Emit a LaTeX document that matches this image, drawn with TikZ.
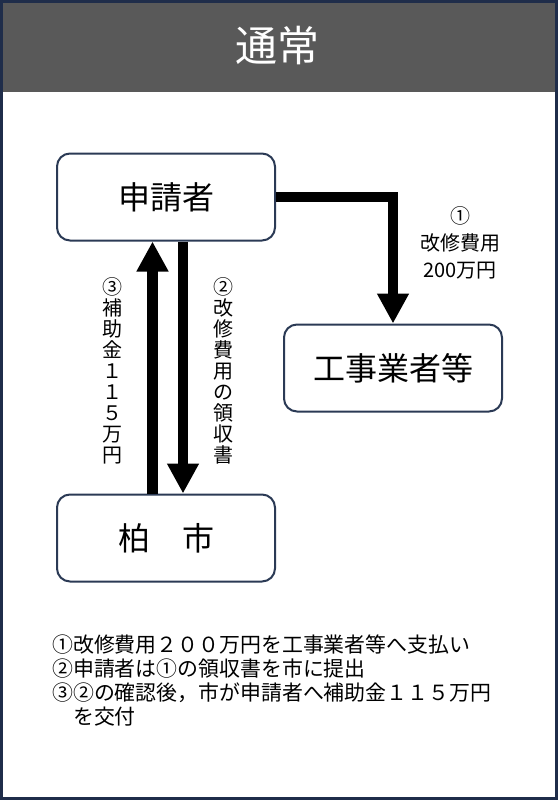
\documentclass[tikz,border=0pt]{standalone}
\usepackage{fontspec}
\setmainfont{Noto Sans CJK JP}
\usetikzlibrary{
        arrows.meta,
        positioning
    }
\definecolor{framenavy}{HTML}{1F2D4A}
\definecolor{boxnavy}{HTML}{2B3A55}
\definecolor{titlegray}{HTML}{595959}
\tikzset{>={Triangle[length=30pt,width=30pt]},line join=miter}
\tikzset{party/.style={draw=boxnavy,line width=2pt,rounded corners=13pt,minimum width=218pt,minimum height=87pt,font=\fontsize{32}{38}\selectfont}}
\tikzset{flow/.style={line width=10.5pt}}
\tikzset{vlabel/.style={align=center,inner sep=0pt,font=\fontsize{20}{21}\selectfont}}

\begin{document}
\begin{tikzpicture}[x=1pt,y=-1pt]
                \useasboundingbox (0,0) rectangle (558,800);
                \fill[titlegray] (0,0) rectangle (558,92);
                \draw[framenavy,line width=3pt] (1.5,1.5) rectangle (556.5,798.5);
                \node[text=white,font=\fontsize{42}{48}\selectfont] (title) at (277,46) {通常};
                \node[party] (app)  at (166,197) {申請者};
                \node[party] (firm) at (393,368) {工事業者等};
                \node[party] (city) at (166,538) {柏　市};
                \draw[->,flow] (app.east) -| (firm.north);
                \draw[->,flow] ([xshift=-13.5pt]city.north) -- ([xshift=-13.5pt]app.south);
                \draw[->,flow] ([xshift=17pt]app.south) -- ([xshift=17pt]city.north);
                \node[align=center,font=\fontsize{20}{27}\selectfont] (pay) at (460,243) {①\\改修費用\\200万円};
                \node[vlabel] (grant)   at (112,371) {③\\補\\助\\金\\１\\１\\５\\万\\円};
                \node[vlabel] (receipt) at (223,371) {②\\改\\修\\費\\用\\の\\領\\収\\書};
                \node[align=left,anchor=north west,inner sep=0pt,font=\fontsize{20.9}{24}\selectfont] (notes) at (52,635)
                    {①改修費用２００万円を工事業者等へ支払い\\
                     ②申請者は①の領収書を市に提出\\
                     ③②の確認後，市が申請者へ補助金１１５万円\\
                     \hspace*{1em}を交付};
            \end{tikzpicture}
\end{document}
